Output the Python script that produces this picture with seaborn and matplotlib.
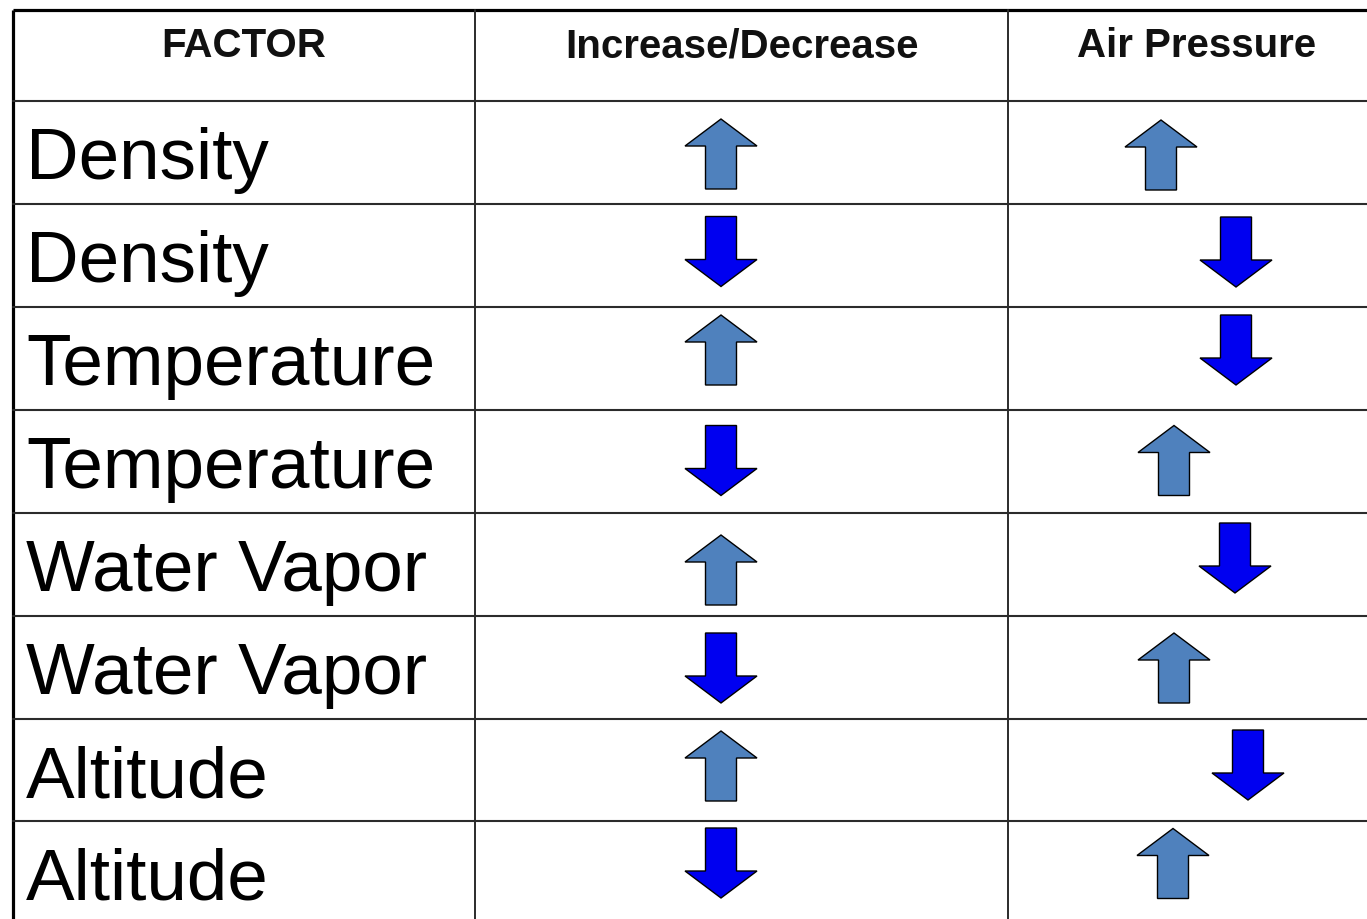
import matplotlib
matplotlib.use("Agg")
import matplotlib.pyplot as plt
from matplotlib.patches import Polygon
import seaborn as sns

# ---------------- data ----------------
headers = ["FACTOR", "Increase/Decrease", "Air Pressure"]
factors = ["Density", "Density", "Temperature", "Temperature",
           "Water Vapor", "Water Vapor", "Altitude", "Altitude"]
change = ["up", "down", "up", "down", "up", "down", "up", "down"]
pressure = ["up", "down", "down", "up", "down", "up", "down", "up"]

# ---------------- layout (pixel space) ----------------
W, H = 1367, 919
col_edges = [13, 475, 1008, 1386]
row_edges = [10, 101, 204, 307, 410, 513, 616, 719, 821, 924]
col2_x = 721
col3_x = [1161, 1236, 1236, 1174, 1235, 1174, 1248, 1173]
col2_y = [154, 251.5, 350, 460.5, 570, 668, 766, 863]
col3_y = [155, 252, 350, 460.5, 558, 668, 765, 863.5]

UP_COLOR = "#4F81BD"
DOWN_COLOR = "#0000F0"
LINE_COLOR = "#2b2b2b"

sns.set_theme(style="white")
plt.rcParams["font.family"] = ["Liberation Sans", "DejaVu Sans"]

fig = plt.figure(figsize=(W / 100, H / 100), dpi=100)
ax = fig.add_axes([0, 0, 1, 1])
ax.set_xlim(0, W)
ax.set_ylim(H, 0)
ax.axis("off")

# grid lines
ax.plot([col_edges[0], W + 5], [row_edges[0]] * 2, color="black", lw=2.3, solid_capstyle="butt")
ax.plot([col_edges[0]] * 2, [row_edges[0], H + 5], color="black", lw=2.3, solid_capstyle="butt")
for x in col_edges[1:3]:
    ax.plot([x, x], [row_edges[0], H + 5], color=LINE_COLOR, lw=1.4)
for y in row_edges[1:-1]:
    ax.plot([col_edges[0], W + 5], [y, y], color=LINE_COLOR, lw=1.5)

# headers
for i, h in enumerate(headers):
    cx = (col_edges[i] + col_edges[i + 1]) / 2
    ax.text(cx, 57, h, ha="center", va="baseline", fontsize=29, fontweight="bold", color="#111111")

# factor names
for r, name in enumerate(factors):
    ax.text(26, row_edges[r + 1] + 78, name, ha="left", va="baseline", fontsize=52.5, color="black")


def arrow(cx, cy, direction, h=70, hw=72, sw=31, hh=27):
    half = h / 2
    s = -1 if direction == "up" else 1
    tip = cy + s * half
    base = cy - s * half
    neck = tip - s * hh
    pts = [(cx, tip), (cx + hw / 2, neck), (cx + sw / 2, neck), (cx + sw / 2, base),
           (cx - sw / 2, base), (cx - sw / 2, neck), (cx - hw / 2, neck)]
    color = UP_COLOR if direction == "up" else DOWN_COLOR
    ax.add_patch(Polygon(pts, closed=True, facecolor=color, edgecolor="black",
                         lw=1.0, joinstyle="miter"))


for r in range(len(factors)):
    arrow(col2_x, col2_y[r], change[r])
    arrow(col3_x[r], col3_y[r], pressure[r])

fig.savefig("out.png", dpi=100, facecolor="white")
